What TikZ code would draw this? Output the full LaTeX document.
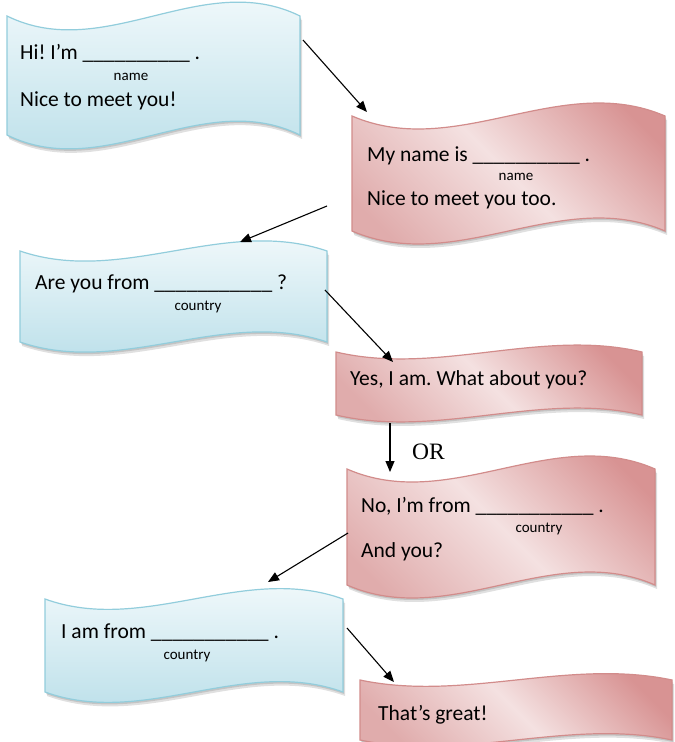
\documentclass[tikz,border=0pt]{standalone}
\usepackage{fontspec}
\setmainfont{Carlito}
\newfontfamily\orfont{Liberation Serif}
\usetikzlibrary{arrows.meta,calc}
\definecolor{bluetop}{HTML}{F8FCFD}
\definecolor{bluebot}{HTML}{B6DDE8}
\definecolor{blueline}{HTML}{92CDDC}
\definecolor{reddark}{HTML}{D89393}
\definecolor{redlight}{HTML}{F4E1E1}
\definecolor{redmid}{HTML}{E0ACAC}
\definecolor{redline}{HTML}{D28C8B}
\pgfdeclareverticalshading{redshade}{100bp}{color(0bp)=(redmid); color(25bp)=(redmid); color(50bp)=(redlight); color(75bp)=(reddark); color(100bp)=(reddark)}
% #1 style, #2 x0, #3 x1, #4 ytop, #5 ybottom, #6 wave control offset
\newcommand\wavebox[6]{%
  \fill[black,opacity=0.12,shift={(1,2)}] (#2,#4) .. controls ({#2+(#3-#2)/3},{#4+#6}) and ({#2+2*(#3-#2)/3},{#4-#6}) .. (#3,#4) -- (#3,#5) .. controls ({#2+2*(#3-#2)/3},{#5-#6}) and ({#2+(#3-#2)/3},{#5+#6}) .. (#2,#5) -- cycle;
  \fill[black,opacity=0.12,shift={(2,4)}] (#2,#4) .. controls ({#2+(#3-#2)/3},{#4+#6}) and ({#2+2*(#3-#2)/3},{#4-#6}) .. (#3,#4) -- (#3,#5) .. controls ({#2+2*(#3-#2)/3},{#5-#6}) and ({#2+(#3-#2)/3},{#5+#6}) .. (#2,#5) -- cycle;
  \path[#1] (#2,#4) .. controls ({#2+(#3-#2)/3},{#4+#6}) and ({#2+2*(#3-#2)/3},{#4-#6}) .. (#3,#4) -- (#3,#5) .. controls ({#2+2*(#3-#2)/3},{#5-#6}) and ({#2+(#3-#2)/3},{#5+#6}) .. (#2,#5) -- cycle;
}
\tikzset{
  bluewave/.style={draw=blueline,line width=1.2pt,top color=bluetop,bottom color=bluebot},
  redwave/.style={draw=redline,line width=1.2pt,shading=redshade,shading angle=-45},
  maintext/.style={anchor=base west,inner sep=0pt,font=\fontsize{21.5}{25}\selectfont},
  smalltext/.style={anchor=base,inner sep=0pt,font=\fontsize{15}{17}\selectfont},
  conn/.style={draw=black,line width=1.1pt,-{Triangle[length=11pt,width=9pt]}}
}
\frenchspacing
\begin{document}
\begin{tikzpicture}[x=1pt,y={(0pt,-1pt)}]
\useasboundingbox (0,0) rectangle (675,742);
\fill[white] (0,0) rectangle (675,742);
% shapes
\wavebox{bluewave}{7}{300}{16}{135}{48}
\wavebox{redwave}{352}{665}{116}{231}{45}
\wavebox{bluewave}{20}{327}{251}{342}{35}
\wavebox{redwave}{336}{642}{352}{415}{24}
\wavebox{redwave}{347}{655}{469}{585}{45}
\wavebox{bluewave}{45}{343}{599}{692}{36}
\wavebox{redwave}{360}{672}{680}{740}{22}
% texts
\node[maintext] (t1a) at (20,59) {Hi! I’m \_\_\_\_\_\_\_\_\_\_ .};
\node[smalltext] (t1b) at (131,80) {name};
\node[maintext] (t1c) at (20,106) {Nice to meet you!};
\node[maintext] (t2a) at (367,161) {My name is \_\_\_\_\_\_\_\_\_\_ .};
\node[smalltext] (t2b) at (516,180) {name};
\node[maintext] (t2c) at (367,205) {Nice to meet you too.};
\node[maintext] (t3a) at (35,289) {Are you from \_\_\_\_\_\_\_\_\_\_\_ ?};
\node[smalltext] (t3b) at (198,310) {country};
\node[maintext] (t4a) at (350,385) {Yes, I am. What about you?};
\node[anchor=base west,inner sep=0pt,font=\orfont\fontsize{23.5}{28}\selectfont] (or) at (412,459) {OR};
\node[maintext] (t5a) at (361,512) {No, I’m from \_\_\_\_\_\_\_\_\_\_\_ .};
\node[smalltext] (t5b) at (539,532) {country};
\node[maintext] (t5c) at (361,557) {And you?};
\node[maintext] (t6a) at (61,638) {I am from \_\_\_\_\_\_\_\_\_\_\_ .};
\node[smalltext] (t6b) at (187,659) {country};
\node[maintext] (t7a) at (378,720) {That’s great!};
% connector end points
\coordinate (a1s) at (303,40);  \coordinate (a1e) at (367,112);
\coordinate (a2s) at (327,206); \coordinate (a2e) at (240,242);
\coordinate (a3s) at (325,290); \coordinate (a3e) at (393,362);
\coordinate (a4s) at (390,423); \coordinate (a4e) at (390,472);
\coordinate (a5s) at (348,533); \coordinate (a5e) at (268,582);
\coordinate (a6s) at (347,628); \coordinate (a6e) at (394,682);
\draw[conn] (a1s) -- (a1e);
\draw[conn] (a2s) -- (a2e);
\draw[conn] (a3s) -- (a3e);
\draw[conn] (a4s) -- (a4e);
\draw[conn] (a5s) -- (a5e);
\draw[conn] (a6s) -- (a6e);
\end{tikzpicture}
\end{document}
